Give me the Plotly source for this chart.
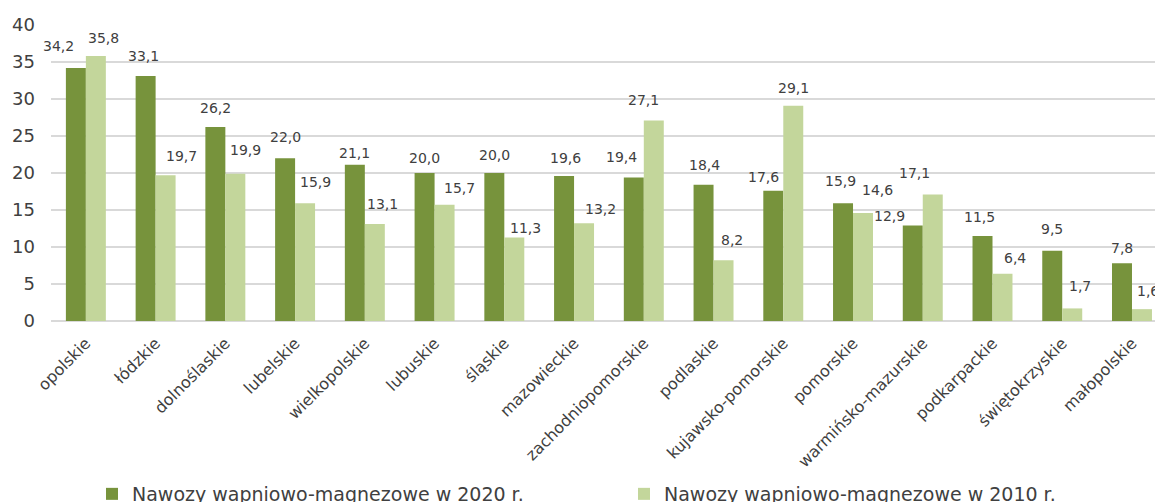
import plotly.graph_objects as go

categories = ["opolskie", "łódzkie", "dolnoślaskie", "lubelskie", "wielkopolskie",
              "lubuskie", "śląskie", "mazowieckie", "zachodniopomorskie", "podlaskie",
              "kujawsko-pomorskie", "pomorskie", "warmińsko-mazurskie", "podkarpackie",
              "świętokrzyskie", "małopolskie"]
values_2020 = [34.2, 33.1, 26.2, 22.0, 21.1, 20.0, 20.0, 19.6, 19.4, 18.4, 17.6, 15.9, 12.9, 11.5, 9.5, 7.8]
values_2010 = [35.8, 19.7, 19.9, 15.9, 13.1, 15.7, 11.3, 13.2, 27.1, 8.2, 29.1, 14.6, 17.1, 6.4, 1.7, 1.6]
series_names = ["Nawozy wapniowo-magnezowe w 2020 r.", "Nawozy wapniowo-magnezowe w 2010 r."]
y_ticks = [0, 5, 10, 15, 20, 25, 30, 35, 40]

# label nudges (pixels) - style only
lab_dx_2020 = [-17, -2, 0, 0, 0, 0, 0, 1, -12, 1, -10, -3, -23, -3, 0, 0]
lab_dy_2020 = [22, 20, 19, 21, 12, 15, 18, 18, 20, 20, 14, 22, 10, 19, 22, 15]
lab_dx_2010 = [8, 16, 10, 10, 8, 15, 11, 16, -10, 8, 0, 14, -18, 13, 8, 6]
lab_dy_2010 = [18, 19, 24, 21, 20, 17, 9, 14, 20, 20, 18, 23, 21, 16, 22, 18]

DARK = "#77933C"
LIGHT = "#C3D69B"
TXT = "#404040"
FONT = "DejaVu Sans"
BARGAP = 0.427
half = (1 - BARGAP) / 4

W, H = 1155, 502

fig = go.Figure()
fig.add_trace(go.Bar(x=categories, y=values_2020, name=series_names[0],
                     marker=dict(color=DARK, line=dict(width=0))))
fig.add_trace(go.Bar(x=categories, y=values_2010, name=series_names[1],
                     marker=dict(color=LIGHT, line=dict(width=0))))

def fmt(v):
    return f"{v:.1f}".replace(".", ",")

annotations = []
for i, (v, dx, dy) in enumerate(zip(values_2020, lab_dx_2020, lab_dy_2020)):
    annotations.append(dict(x=i - half, y=v, xref="x", yref="y", text=fmt(v), showarrow=False,
                            xanchor="center", yanchor="middle", xshift=dx, yshift=dy,
                            font=dict(family=FONT, size=14, color=TXT)))
for i, (v, dx, dy) in enumerate(zip(values_2010, lab_dx_2010, lab_dy_2010)):
    annotations.append(dict(x=i + half, y=v, xref="x", yref="y", text=fmt(v), showarrow=False,
                            xanchor="center", yanchor="middle", xshift=dx, yshift=dy,
                            font=dict(family=FONT, size=14, color=TXT)))

fig.update_layout(
    width=W, height=H,
    margin=dict(l=51, r=0, t=25, b=181, autoexpand=False),
    paper_bgcolor="white", plot_bgcolor="white",
    barmode="group", bargap=BARGAP, bargroupgap=0,
    font=dict(family=FONT, color=TXT),
    annotations=annotations,
    showlegend=True,
    legend=dict(orientation="h", xref="container", x=92 / W, xanchor="left",
                yref="container", y=27 / H, yanchor="top",
                entrywidth=487, entrywidthmode="pixels",
                font=dict(family=FONT, size=19, color=TXT), bgcolor="rgba(0,0,0,0)"),
    xaxis=dict(type="category", range=[-0.5, 15.33], tickangle=-45, automargin=False,
               tickfont=dict(family=FONT, size=16, color=TXT), showgrid=False,
               ticks="", showline=False, zeroline=False, ticklabelstandoff=9),
    yaxis=dict(range=[0, 40], tickvals=y_ticks, ticks="", automargin=False,
               tickfont=dict(family=FONT, size=18, color=TXT),
               showgrid=True, gridcolor="#D9D9D9", gridwidth=1.5,
               zeroline=True, zerolinecolor="#D9D9D9", zerolinewidth=1.5,
               showline=False, ticklabelstandoff=15),
)

fig.write_html("out.html", config={"displayModeBar": False},
               post_script="document.body.style.margin='0';document.body.style.overflow='hidden';")
